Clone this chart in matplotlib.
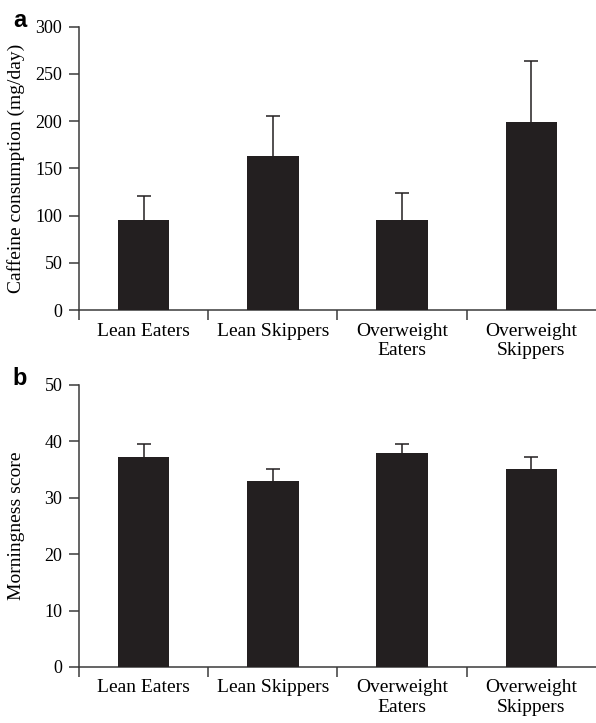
import matplotlib.pyplot as plt
import numpy as np
#--------------------------------------
groups = ['Lean Eaters', 'Lean Skippers', 'Overweight\nEaters', 'Overweight\nSkippers']
caffeine = [95, 163, 95, 199]
caffeine_err = [26, 42, 29, 65]
morning = [37.2, 33.0, 37.9, 35.1]
morning_err = [2.3, 2.1, 1.6, 2.1]
#--------------------------------------
plt.rcParams['font.family'] = ['Liberation Serif', 'DejaVu Serif']
bar_color = '#231f20'
spine_color = '#3a3a3a'

fig = plt.figure(figsize=(5.96, 7.23), dpi=100)
ax_a = fig.add_axes([0.1325, 0.571, 0.8675, 0.392])
ax_b = fig.add_axes([0.1325, 0.0775, 0.8675, 0.39])

x = np.arange(len(groups))

def panel(ax, vals, errs, ymax, step, ylabel, letter, label_x):
    ax.bar(x, vals, width=0.4, color=bar_color, linewidth=0, zorder=3)
    eb = ax.errorbar(x, vals, yerr=[np.zeros(len(errs)), errs], fmt='none',
                     ecolor=bar_color, elinewidth=1.1, capsize=5, capthick=1.1, zorder=1)
    # only the upper cap is shown
    eb[1][0].set_visible(False)
    ax.set_xlim(-0.5, 3.5)
    ax.set_ylim(0, ymax)
    ax.set_yticks(np.arange(0, ymax + 1, step))
    ax.set_xticks(x)
    ax.set_xticklabels(groups, fontsize=14)
    ax.set_xticks(np.arange(-0.5, 3.0, 1.0), minor=True)
    ax.tick_params(axis='x', which='major', length=0, pad=9)
    ax.tick_params(axis='x', which='minor', length=7, width=1.1, color=spine_color, direction='out')
    ax.tick_params(axis='y', length=7, width=1.1, color=spine_color, labelsize=13, pad=5)
    for s in ['top', 'right']:
        ax.spines[s].set_visible(False)
    for s in ['left', 'bottom']:
        ax.spines[s].set_color(spine_color)
        ax.spines[s].set_linewidth(1.1)
    ax.set_ylabel(ylabel, fontsize=14)
    ax.yaxis.set_label_coords(label_x, 0.5)
    ax.text(-0.128, 1.0, letter, transform=ax.transAxes, fontsize=17,
            fontweight='bold', family='Liberation Sans', ha='left', va='baseline')

panel(ax_a, caffeine, caffeine_err, 300, 50, 'Caffeine consumption (mg/day)', 'a', -0.105)
panel(ax_b, morning, morning_err, 50, 10, 'Morningness score', 'b', -0.105)

fig.savefig('out.png', dpi=100)
